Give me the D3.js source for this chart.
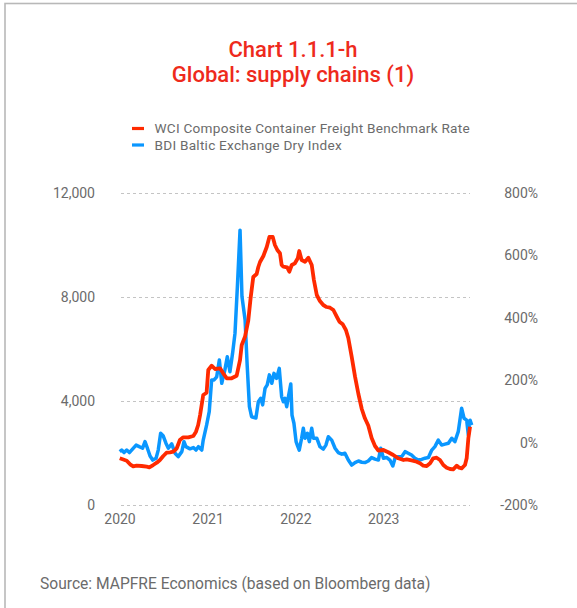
<!DOCTYPE html>
<html>
<head>
<meta charset="utf-8">
<script src="https://cdn.jsdelivr.net/npm/d3@7"></script>
<style>
  body { margin: 0; background: #fff; }
  svg { display: block; }
  text { font-family: Roboto, "Noto Sans", sans-serif; }
</style>
</head>
<body>
<svg id="chart" width="577" height="608"></svg>
<script>
// WCI Composite Container Freight Benchmark Rate (USD per 40ft container, left axis)
const wciDates = [
  "2020-01-02","2020-01-14","2020-01-31","2020-02-14","2020-02-27","2020-03-12","2020-04-02","2020-04-23","2020-05-04","2020-05-20",
  "2020-06-04","2020-06-17","2020-07-01","2020-07-15","2020-07-29","2020-08-12","2020-08-26","2020-09-08","2020-09-22","2020-10-13",
  "2020-11-03","2020-11-14","2020-11-23","2020-12-01","2020-12-14","2020-12-28",
  "2021-01-04","2021-01-18","2021-02-01","2021-02-22","2021-03-07","2021-03-22","2021-04-11","2021-05-02","2021-05-16","2021-05-23",
  "2021-06-06","2021-06-19","2021-06-29","2021-07-10","2021-07-24","2021-07-31","2021-08-07","2021-08-21","2021-09-04","2021-09-15",
  "2021-09-29","2021-10-08","2021-10-18","2021-10-29","2021-11-05","2021-11-12","2021-11-28","2021-12-07","2021-12-17","2021-12-30",
  "2022-01-11","2022-01-17","2022-01-27","2022-02-10","2022-02-24","2022-03-10","2022-03-19","2022-03-31","2022-04-13","2022-04-27",
  "2022-05-11","2022-05-25","2022-06-08","2022-06-22","2022-07-03","2022-07-17","2022-07-30","2022-08-09","2022-08-23","2022-09-06",
  "2022-09-20","2022-10-04","2022-10-17","2022-10-31","2022-11-14","2022-11-28","2022-12-12",
  "2023-01-02","2023-01-22","2023-02-12","2023-03-05","2023-03-26","2023-04-09","2023-04-29","2023-05-20","2023-06-03","2023-06-17",
  "2023-07-01","2023-07-15","2023-07-28","2023-08-11","2023-08-25","2023-09-08","2023-09-22","2023-10-06","2023-10-19","2023-11-03",
  "2023-11-13","2023-11-23","2023-12-07","2023-12-14","2023-12-21","2023-12-28"
];
const wciValues = [
  1796,1758,1704,1565,1488,1512,1500,1473,1450,1538,
  1627,1731,1885,2012,2027,2050,2181,2500,2604,2604,
  2654,2819,3077,3462,4231,4319,
  5192,5358,5231,5258,5065,4873,4873,4973,5577,6154,
  6481,7077,7962,8769,8885,9154,9346,9577,9923,10308,
  10308,10000,9808,9681,9231,9165,9142,8973,9231,9296,
  9488,9769,9423,9358,9512,9231,8654,8077,7846,7692,
  7615,7588,7500,7242,7050,6950,6731,6423,5704,4935,
  4269,3692,3335,3058,2577,2269,2096,
  2115,2027,1923,1796,1731,1758,1719,1665,1604,1512,
  1500,1604,1796,1819,1731,1538,1435,1385,1373,1512,
  1435,1412,1538,1796,2565,3012
];

// BDI Baltic Exchange Dry Index, year-on-year change in % (right axis)
const bdiDates = [
  "2020-01-02","2020-01-10","2020-01-20","2020-01-31","2020-02-11","2020-02-25","2020-03-10","2020-03-23","2020-04-06","2020-04-16",
  "2020-04-26","2020-05-07","2020-05-18","2020-06-01","2020-06-10","2020-06-20","2020-07-01","2020-07-12","2020-07-22","2020-08-05",
  "2020-08-19","2020-09-01","2020-09-16","2020-09-25","2020-10-03","2020-10-20","2020-11-03","2020-11-14","2020-11-24","2020-12-08",
  "2020-12-14","2020-12-28",
  "2021-01-08","2021-01-18","2021-01-28","2021-02-08","2021-02-19","2021-03-01","2021-03-14","2021-03-24","2021-04-04","2021-04-15",
  "2021-04-25","2021-05-05","2021-05-16","2021-05-24","2021-06-06","2021-06-15","2021-06-24","2021-07-03","2021-07-21","2021-07-31",
  "2021-08-10","2021-08-18","2021-08-28","2021-09-06","2021-09-15","2021-09-25","2021-10-04","2021-10-15","2021-10-26","2021-11-05",
  "2021-11-12","2021-11-19","2021-11-26","2021-12-03","2021-12-13","2021-12-18","2021-12-26",
  "2022-01-04","2022-01-09","2022-01-17","2022-01-27","2022-02-03","2022-02-10","2022-02-20","2022-02-28","2022-03-10","2022-03-17",
  "2022-03-31","2022-04-13","2022-04-27","2022-05-08","2022-05-18","2022-06-01","2022-06-15","2022-06-28","2022-07-13","2022-07-26",
  "2022-08-09","2022-08-23","2022-09-06","2022-09-20","2022-10-04","2022-10-17","2022-10-31","2022-11-14","2022-11-28","2022-12-12",
  "2022-12-22",
  "2023-01-02","2023-01-16","2023-01-29","2023-02-10","2023-02-19","2023-03-05","2023-03-19","2023-04-02","2023-04-15","2023-04-29",
  "2023-05-13","2023-05-27","2023-06-10","2023-06-24","2023-07-08","2023-07-22","2023-08-04","2023-08-18","2023-09-01","2023-09-15",
  "2023-09-29","2023-10-13","2023-10-26","2023-11-09","2023-11-23","2023-12-03","2023-12-14","2023-12-21","2023-12-28","2024-01-04"
];
const bdiValues = [
  -29,-24,-32,-24,-32,-20,-8,-13,-18,3,
  -18,-43,-56,-50,-24,30,21,-2,-18,-4,
  -34,-45,-29,3,-13,-20,-16,-24,-13,-24,
  8,56,
  99,201,201,211,265,190,233,275,227,286,
  350,500,681,468,393,243,115,83,79,131,
  142,121,174,185,217,190,222,206,238,147,
  131,142,115,147,188,88,62,
  3,-8,-24,14,46,14,30,3,46,14,
  14,-13,-21,-8,19,8,-18,-32,-37,-34,
  -56,-72,-64,-59,-63,-64,-59,-48,-53,-56,
  -18,
  -50,-48,-56,-75,-50,-45,-45,-29,-34,-40,
  -50,-56,-54,-50,-48,-24,-13,8,-8,-5,
  -2,14,3,35,110,78,72,24,72,56
];

const yearTicks = [2020, 2021, 2022, 2023];
const leftTicks = [0, 4000, 8000, 12000];
const rightTicks = [-200, 0, 200, 400, 600, 800];

const titleLines = ["Chart 1.1.1-h", "Global: supply chains (1)"];
const legendItems = [
  { label: "WCI Composite Container Freight Benchmark Rate", color: "#ff2a00" },
  { label: "BDI Baltic Exchange Dry Index", color: "#0a97ff" }
];
const sourceText = "Source: MAPFRE Economics (based on Bloomberg data)";

const parse = d3.utcParse("%Y-%m-%d");
const wci = wciDates.map((d, i) => ({ date: parse(d), value: wciValues[i] }));
const bdi = bdiDates.map((d, i) => ({ date: parse(d), value: bdiValues[i] }));

const svg = d3.select("#chart");
const textGrey = "#6b6b6b";

// panel frame
svg.append("rect")
  .attr("x", 5).attr("y", 3.5)
  .attr("width", 700).attr("height", 700)
  .attr("fill", "none")
  .attr("stroke", "#b8b8b8")
  .attr("stroke-width", 1.6);

// title
svg.append("g").selectAll("text")
  .data(titleLines)
  .join("text")
  .attr("x", 293)
  .attr("y", (d, i) => 57 + i * 25)
  .attr("text-anchor", "middle")
  .attr("font-size", 22)
  .attr("font-weight", 500)
  .attr("fill", "#ee2a1c")
  .text(d => d);

// legend
const legend = svg.append("g").selectAll("g")
  .data(legendItems)
  .join("g")
  .attr("transform", (d, i) => `translate(0, ${128.5 + i * 16.5})`);
legend.append("line")
  .attr("x1", 132).attr("x2", 144)
  .attr("stroke", d => d.color)
  .attr("stroke-width", 3.2);
legend.append("text")
  .attr("x", 154.5)
  .attr("dy", "0.35em")
  .attr("font-size", 13.6)
  .attr("letter-spacing", 0.25)
  .attr("fill", textGrey)
  .text(d => d.label);

// scales
const x = d3.scaleUtc()
  .domain([new Date(Date.UTC(2020, 0, 1)), new Date(Date.UTC(2024, 0, 1))])
  .range([119.5, 471]);
const yLeft = d3.scaleLinear().domain([0, 12000]).range([505, 193]);
const yRight = d3.scaleLinear().domain([-200, 800]).range([505, 193]);

// dashed gridlines at the left-axis ticks
svg.append("g").selectAll("line")
  .data(leftTicks)
  .join("line")
  .attr("x1", 121).attr("x2", 470)
  .attr("y1", d => Math.round(yLeft(d)) + 0.5)
  .attr("y2", d => Math.round(yLeft(d)) + 0.5)
  .attr("stroke", "#c4c4c4")
  .attr("stroke-width", 1)
  .attr("stroke-dasharray", "3,3");

// axes (labels only)
const axisLeft = svg.append("g")
  .attr("transform", "translate(95,0)")
  .call(d3.axisLeft(yLeft).tickValues(leftTicks).tickFormat(d3.format(",")).tickSize(0).tickPadding(0));
const axisRight = svg.append("g")
  .attr("transform", "translate(538,0)")
  .call(d3.axisRight(yRight).tickValues(rightTicks).tickFormat(d => d + "%").tickSize(0).tickPadding(0));
axisRight.selectAll("text").attr("text-anchor", "end");
const axisBottom = svg.append("g")
  .attr("transform", "translate(0,505)")
  .call(d3.axisBottom(x)
    .tickValues(yearTicks.map(yr => new Date(Date.UTC(yr, 0, 1))))
    .tickFormat(d3.utcFormat("%Y"))
    .tickSize(0).tickPadding(9));
[axisLeft, axisRight, axisBottom].forEach(g => {
  g.select(".domain").remove();
  g.selectAll("text")
    .attr("font-family", "Roboto, 'Noto Sans', sans-serif")
    .attr("font-size", 14)
    .attr("fill", textGrey);
});

// series lines
const lineBdi = d3.line().x(d => x(d.date)).y(d => yRight(d.value));
const lineWci = d3.line().x(d => x(d.date)).y(d => yLeft(d.value));

svg.append("path")
  .datum(bdi)
  .attr("d", lineBdi)
  .attr("fill", "none")
  .attr("stroke", legendItems[1].color)
  .attr("stroke-width", 3.5)
  .attr("stroke-linejoin", "round");

svg.append("path")
  .datum(wci)
  .attr("d", lineWci)
  .attr("fill", "none")
  .attr("stroke", legendItems[0].color)
  .attr("stroke-width", 3.8)
  .attr("stroke-linejoin", "round");

// source note
svg.append("text")
  .attr("x", 40)
  .attr("y", 589)
  .attr("font-size", 15.6)
  .attr("fill", textGrey)
  .text(sourceText);
</script>
</body>
</html>
